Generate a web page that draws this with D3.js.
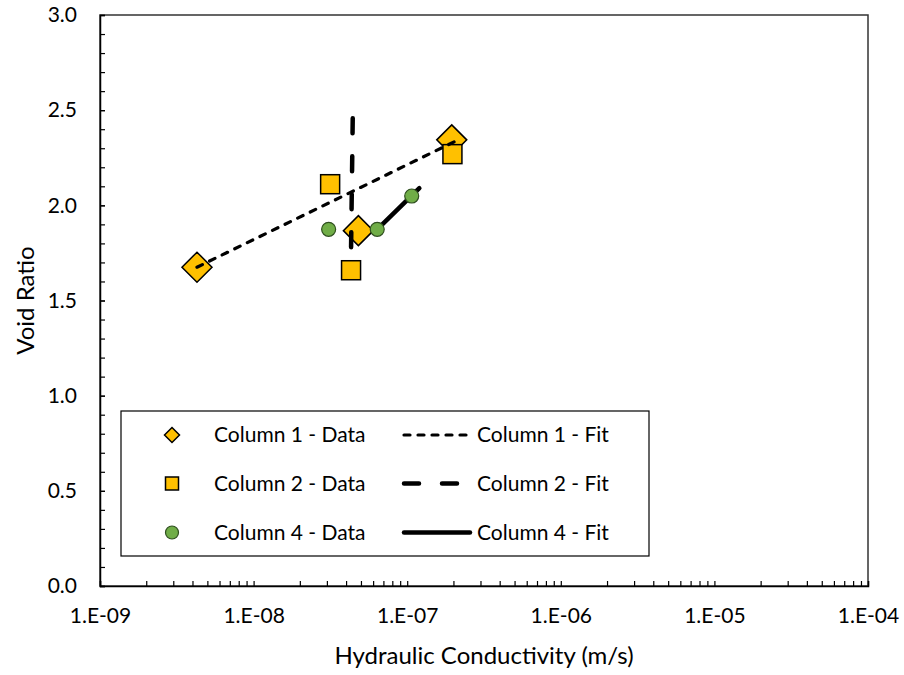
<!DOCTYPE html>
<html>
<head>
<meta charset="utf-8">
<script src="https://cdn.jsdelivr.net/npm/d3@7"></script>
<style>
  body { margin: 0; background: #fff; }
  svg { font-family: Lato, "Open Sans", sans-serif; }
</style>
</head>
<body>
<div id="chart"></div>
<script>
// Void ratio vs hydraulic conductivity, log x axis

// Column 1 (diamonds)
const col1K = [4.28e-9, 4.81e-8, 1.95e-7];
const col1E = [1.675, 1.867, 2.344];
// Column 2 (squares)
const col2K = [3.15e-8, 4.31e-8, 1.97e-7];
const col2E = [2.111, 1.659, 2.269];
// Column 4 (circles)
const col4K = [3.08e-8, 6.38e-8, 1.07e-7];
const col4E = [1.874, 1.874, 2.049];

// fitted lines
const fit1K = [4.28e-9, 2.10e-7];
const fit1E = [1.675, 2.340];
const fit2K = [4.42e-8, 4.31e-8];
const fit2E = [2.458, 1.769];
const fit4K = [6.38e-8, 1.20e-7];
const fit4E = [1.874, 2.090];

const xTicks = [1e-9, 1e-8, 1e-7, 1e-6, 1e-5, 1e-4];
const xTickLabels = ['1.E-09', '1.E-08', '1.E-07', '1.E-06', '1.E-05', '1.E-04'];
const yTicks = [0, 0.5, 1.0, 1.5, 2.0, 2.5, 3.0];

const legendData = ['Column 1 - Data', 'Column 2 - Data', 'Column 4 - Data'];
const legendFit = ['Column 1 - Fit', 'Column 2 - Fit', 'Column 4 - Fit'];

const W = 904, H = 675;
const margin = { top: 15, right: 36, bottom: 89, left: 100 };

const orange = '#FFC000';
const green = '#70AD47';

const svg = d3.select('#chart')
  .append('svg')
  .attr('width', W)
  .attr('height', H);

const x = d3.scaleLog()
  .domain([1e-9, 1e-4])
  .range([margin.left, W - margin.right]);

const y = d3.scaleLinear()
  .domain([0, 3])
  .range([H - margin.bottom, margin.top]);

// plot border
svg.append('rect')
  .attr('x', x(1e-9))
  .attr('y', y(3))
  .attr('width', x(1e-4) - x(1e-9))
  .attr('height', y(0) - y(3))
  .attr('fill', 'none')
  .attr('stroke', '#333')
  .attr('stroke-width', 1.5);

// minor x ticks (2..9 per decade)
const xMinor = [];
xTicks.slice(0, -1).forEach(d => {
  for (let m = 2; m <= 9; m++) xMinor.push(d * m);
});

svg.append('g')
  .attr('transform', `translate(0,${y(0)})`)
  .call(d3.axisBottom(x).tickValues(xMinor).tickSize(-5).tickFormat(''))
  .call(g => g.select('.domain').remove());

const xAxis = svg.append('g')
  .attr('transform', `translate(0,${y(0)})`)
  .call(d3.axisBottom(x)
    .tickValues(xTicks)
    .tickSize(-5)
    .tickPadding(22)
    .tickFormat((d, i) => xTickLabels[i]));

// minor y ticks every 0.1
const yMinor = d3.range(0, 31).map(i => i / 10);
svg.append('g')
  .attr('transform', `translate(${x(1e-9)},0)`)
  .call(d3.axisLeft(y).tickValues(yMinor).tickSize(-5).tickFormat(''))
  .call(g => g.select('.domain').remove());

const yAxis = svg.append('g')
  .attr('transform', `translate(${x(1e-9)},0)`)
  .call(d3.axisLeft(y)
    .tickValues(yTicks)
    .tickSize(-5)
    .tickPadding(23)
    .tickFormat(d3.format('.1f')));

[xAxis, yAxis].forEach(g => {
  g.selectAll('.domain').attr('stroke', '#000').attr('stroke-width', 1.5);
  g.selectAll('text').attr('font-size', 21).attr('fill', '#000')
    .style('font-family', 'Lato, sans-serif');
});
svg.selectAll('.tick line').attr('stroke', '#000').attr('stroke-width', 1.2);

// axis titles
svg.append('text')
  .attr('x', (x(1e-9) + x(1e-4)) / 2)
  .attr('y', 664)
  .attr('text-anchor', 'middle')
  .attr('font-size', 24)
  .text('Hydraulic Conductivity (m/s)');

svg.append('text')
  .attr('transform', `translate(34,${(y(0) + y(3)) / 2}) rotate(-90)`)
  .attr('text-anchor', 'middle')
  .attr('font-size', 24)
  .text('Void Ratio');

// marker shapes
const diamond = (g, cx, cy, r) => g.append('path')
  .attr('d', `M${cx},${cy - r}L${cx + r},${cy}L${cx},${cy + r}L${cx - r},${cy}Z`)
  .attr('fill', orange).attr('stroke', '#000').attr('stroke-width', 1.5);
const square = (g, cx, cy, s) => g.append('rect')
  .attr('x', cx - s / 2).attr('y', cy - s / 2).attr('width', s).attr('height', s)
  .attr('fill', orange).attr('stroke', '#000').attr('stroke-width', 1.5);
const circle = (g, cx, cy, r) => g.append('circle')
  .attr('cx', cx).attr('cy', cy).attr('r', r)
  .attr('fill', green).attr('stroke', '#2f4f1f').attr('stroke-width', 1.2);

const line = d3.line().x(d => x(d[0])).y(d => y(d[1]));
const fitStyles = [
  { w: 3.2, dash: '6 8' },
  { w: 4.5, dash: '15 23' },
  { w: 4.5, dash: null }
];
const drawFit = (ks, es, st) => svg.append('path')
  .datum(ks.map((k, i) => [k, es[i]]))
  .attr('d', line)
  .attr('fill', 'none')
  .attr('stroke', '#000')
  .attr('stroke-width', st.w)
  .attr('stroke-linecap', 'round')
  .attr('stroke-dasharray', st.dash);

const marks = svg.append('g');
col1K.forEach((k, i) => diamond(marks, x(k), y(col1E[i]), 15));
col2K.forEach((k, i) => square(marks, x(k), y(col2E[i]), 19));

drawFit(fit1K, fit1E, fitStyles[0]);
drawFit(fit2K, fit2E, fitStyles[1]);
drawFit(fit4K, fit4E, fitStyles[2]);

const marks4 = svg.append('g');
col4K.forEach((k, i) => circle(marks4, x(k), y(col4E[i]), 7));

// legend
const leg = svg.append('g');
leg.append('rect')
  .attr('x', 121).attr('y', 411)
  .attr('width', 528).attr('height', 145)
  .attr('fill', '#fff')
  .attr('stroke', '#000')
  .attr('stroke-width', 1.2);

const rowY = [435, 483.5, 532.5];
diamond(leg, 172, rowY[0], 7.5);
square(leg, 172, rowY[1], 13);
circle(leg, 172, rowY[2], 6.5);

legendData.forEach((t, i) => {
  leg.append('text')
    .attr('x', 214).attr('y', rowY[i])
    .attr('dy', '0.35em')
    .attr('font-size', 21)
    .text(t);
});

fitStyles.forEach((st, i) => {
  leg.append('line')
    .attr('x1', 404).attr('x2', 470)
    .attr('y1', rowY[i]).attr('y2', rowY[i])
    .attr('stroke', '#000')
    .attr('stroke-width', st.w)
    .attr('stroke-linecap', 'round')
    .attr('stroke-dasharray', st.dash);
  leg.append('text')
    .attr('x', 477).attr('y', rowY[i])
    .attr('dy', '0.35em')
    .attr('font-size', 21)
    .text(legendFit[i]);
});
</script>
</body>
</html>
